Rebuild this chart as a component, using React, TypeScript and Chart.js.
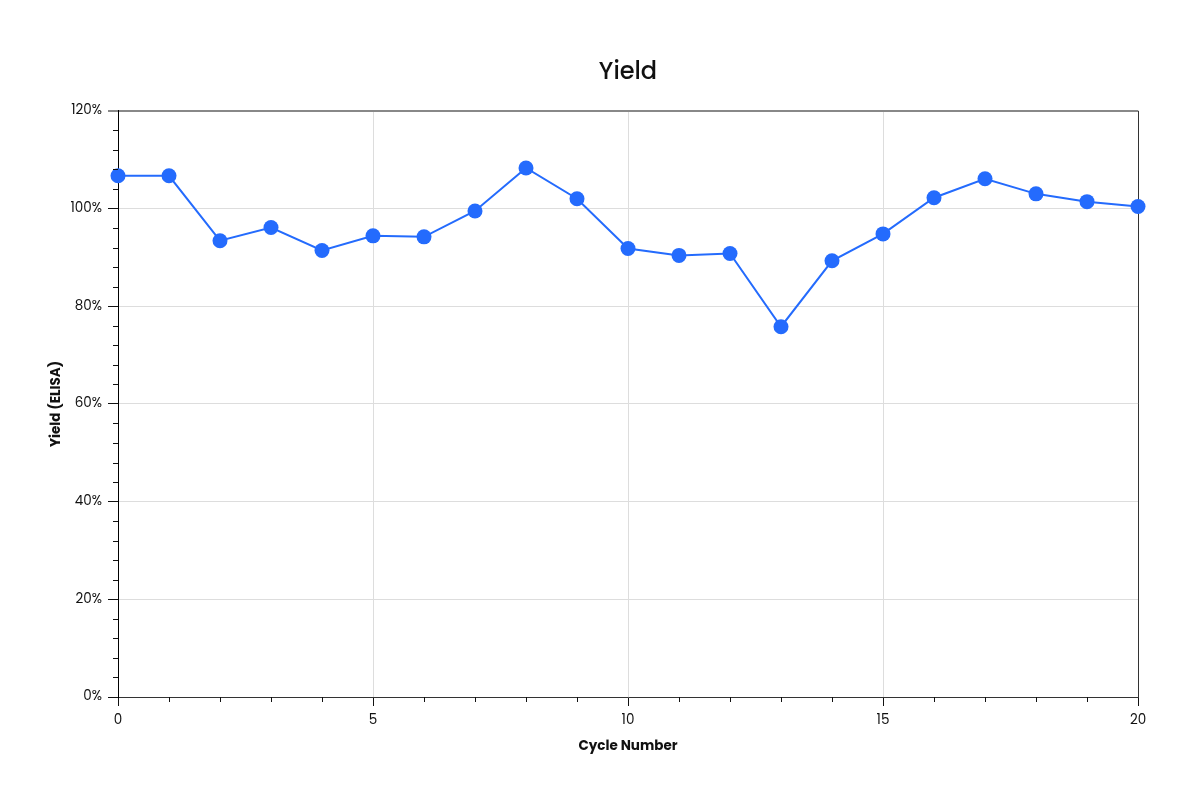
import React, { useEffect, useRef } from "react";
import { Chart, registerables } from "chart.js";

Chart.register(...registerables);

const cycles = [0, 1, 2, 3, 4, 5, 6, 7, 8, 9, 10, 11, 12, 13, 14, 15, 16, 17, 18, 19, 20];
const yields = [106.7, 106.7, 93.4, 96.1, 91.4, 94.4, 94.2, 99.5, 108.3, 102.0, 91.8, 90.4, 90.8, 75.8, 89.3, 94.8, 102.2, 106.1, 103.0, 101.4, 100.4];
const chartTitle = "Yield";
const xTitle = "Cycle Number";
const yTitle = "Yield (ELISA)";
const xMinorTicks = [1, 2, 3, 4, 6, 7, 8, 9, 11, 12, 13, 14, 16, 17, 18, 19];
const yMinorTicks = [4, 8, 12, 16, 24, 28, 32, 36, 44, 48, 52, 56, 64, 68, 72, 76, 84, 88, 92, 96, 104, 108, 112, 116];

const FONT = "Poppins, Inter, 'Noto Sans', sans-serif";

const minorTickPlugin = {
  id: "minorTicks",
  afterDraw(chart: any) {
    const ctx = chart.ctx;
    const xs = chart.scales.x;
    const ys = chart.scales.y;
    const area = chart.chartArea;
    ctx.save();
    ctx.strokeStyle = "#111";
    ctx.lineWidth = 1;
    ctx.beginPath();
    for (const v of xMinorTicks) {
      const px = Math.round(xs.getPixelForValue(v)) + 0.5;
      ctx.moveTo(px, area.bottom);
      ctx.lineTo(px, area.bottom + 5);
    }
    for (const v of yMinorTicks) {
      const py = Math.round(ys.getPixelForValue(v)) + 0.5;
      ctx.moveTo(area.left - 5, py);
      ctx.lineTo(area.left, py);
    }
    ctx.stroke();
    // title centred over plot area
    ctx.fillStyle = "#111";
    ctx.font = `500 24px ${FONT}`;
    ctx.textAlign = "center";
    ctx.textBaseline = "middle";
    ctx.fillText(chartTitle, (area.left + area.right) / 2, 73);
    ctx.restore();
  },
};

export default function App() {
  const ref = useRef<HTMLCanvasElement | null>(null);
  useEffect(() => {
    if (!ref.current) return;
    const chart = new Chart(ref.current, {
      type: "line",
      data: {
        datasets: [
          {
            data: cycles.map((c, i) => ({ x: c, y: yields[i] })),
            borderColor: "#246bfd",
            backgroundColor: "#246bfd",
            borderWidth: 2,
            pointRadius: 7.5,
            pointHoverRadius: 7.5,
            pointBorderWidth: 0,
            tension: 0,
            clip: false,
          },
        ],
      },
      options: {
        animation: false,
        responsive: false,
        maintainAspectRatio: false,
        layout: { padding: { left: 0, right: 63, top: 0, bottom: 0 } },
        plugins: {
          legend: { display: false },
          tooltip: { enabled: false },
          title: {
            display: true,
            text: chartTitle,
            color: "rgba(0,0,0,0)",
            font: { family: FONT, size: 24, weight: "500" },
            padding: { top: 58, bottom: 24 },
          },
        },
        scales: {
          x: {
            type: "linear",
            min: 0,
            max: 20,
            ticks: {
              stepSize: 5,
              color: "#111",
              font: { family: FONT, size: 13.5 },
              padding: 7,
              maxRotation: 0,
            },
            grid: {
              color: (c: any) => (c.tick && c.tick.value === 20 ? "#333" : "#dddddd"),
              tickColor: "#111",
              tickLength: 9,
              lineWidth: 1,
            },
            border: { color: "#333", width: 1 },
            title: {
              display: true,
              text: xTitle,
              color: "#111",
              font: { family: FONT, size: 13.5, weight: "bold" },
              padding: { top: 0, bottom: 46 },
            },
            afterFit: (s: any) => {
              s.height = 104;
            },
          },
          y: {
            min: 0,
            max: 120,
            ticks: {
              stepSize: 20,
              color: "#111",
              font: { family: FONT, size: 13.5 },
              padding: 6,
              callback: (v: any) => v + "%",
            },
            grid: {
              color: (c: any) => (c.tick && c.tick.value === 120 ? "#888" : "#dddddd"),
              tickColor: (c: any) => (c.tick && c.tick.value === 120 ? "#888" : "#111"),
              tickLength: 10,
              lineWidth: (c: any) => (c.tick && c.tick.value === 120 ? 2 : 1),
            },
            border: { color: "#000", width: 1 },
            title: {
              display: true,
              text: yTitle,
              color: "#111",
              font: { family: FONT, size: 13.5, weight: "bold" },
              padding: { top: 49, bottom: 5 },
            },
            afterFit: (s: any) => {
              s.width = 118;
            },
          },
        },
      },
      plugins: [minorTickPlugin],
    });
    return () => chart.destroy();
  }, []);
  return (
    <div style={{ position: "fixed", left: 0, top: 0, width: 1201, height: 801, background: "#fff" }}>
      <canvas ref={ref} width={1201} height={801} style={{ display: "block", width: 1201, height: 801 }} />
    </div>
  );
}
